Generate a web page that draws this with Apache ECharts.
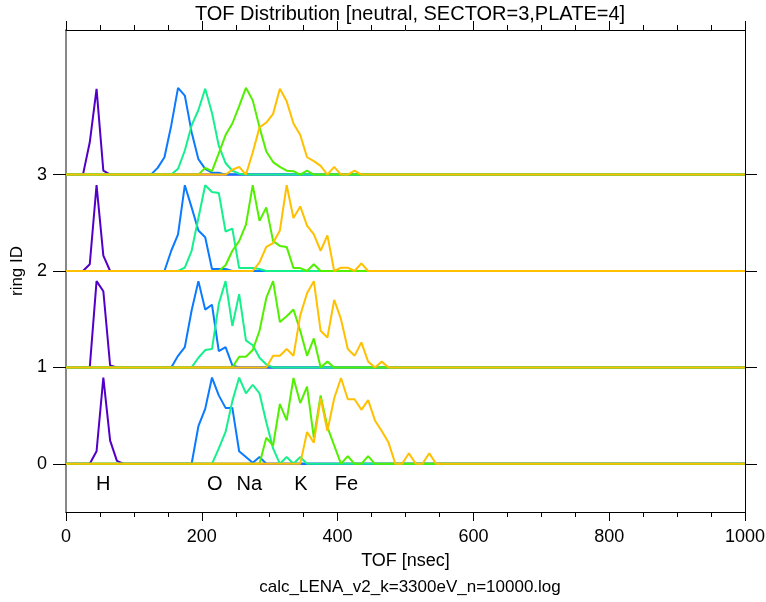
<!DOCTYPE html>
<html>
<head>
<meta charset="utf-8">
<script src="https://cdn.jsdelivr.net/npm/echarts@6/dist/echarts.min.js"></script>
<style>html,body{margin:0;padding:0;background:#fff}#c{width:766px;height:602px}</style>
</head>
<body>
<div id="c"></div>
<script>
// ---- data (TOF bins every 10 nsec, values are normalised counts, offset by ring ID) ----
const species = ['H', 'O', 'Na', 'K', 'Fe'];
const speciesColors = ['#5200c8', '#0a7aff', '#14f08c', '#52f000', '#ffc000'];
const rings = [0, 1, 2, 3];
const binWidth = 10;
const tofMin = 0, tofMax = 1000;

// first bin (nsec) of each curve, per ring, order: H, O, Na, K, Fe
const ring0Start = [35, 185, 215, 285, 345];
const ring1Start = [35, 155, 185, 245, 295];
const ring2Start = [25, 145, 165, 225, 275];
const ring3Start = [25, 125, 155, 195, 235];

const ring0H  = [0, 0.13, 0.895, 0.24, 0.03, 0];
const ring0O  = [0, 0.39, 0.57, 0.895, 0.71, 0.58, 0.58, 0.13, 0.07, 0.01, 0.07, 0];
const ring0Na = [0, 0.16, 0.33, 0.65, 0.895, 0.73, 0.82, 0.73, 0.43, 0.16, 0, 0.07, 0, 0.07, 0];
const ring0K  = [0, 0.27, 0.19, 0.62, 0.45, 0.89, 0.63, 0.80, 0.27, 0.71, 0.38, 0.19, 0, 0.08, 0, 0, 0.08, 0];
const ring0Fe = [0, 0.33, 0.22, 0.68, 0.34, 0.68, 0.89, 0.67, 0.67, 0.56, 0.66, 0.45, 0.34, 0.22, 0, 0, 0.11, 0, 0, 0.11, 0];

const ring1H  = [0, 0.895, 0.79, 0.02, 0];
const ring1O  = [0, 0.12, 0.21, 0.59, 0.895, 0.60, 0.65, 0.17, 0.21, 0.02, 0];
const ring1Na = [0, 0.10, 0.18, 0.19, 0.66, 0.895, 0.43, 0.76, 0.28, 0.23, 0.10, 0.03, 0];
const ring1K  = [0, 0.11, 0.11, 0.18, 0.38, 0.72, 0.895, 0.47, 0.53, 0.60, 0.38, 0.12, 0.30, 0, 0.06, 0];
const ring1Fe = [0, 0.12, 0.12, 0.19, 0.12, 0.54, 0.77, 0.895, 0.38, 0.31, 0.70, 0.50, 0.19, 0.12, 0.26, 0.06, 0, 0.06, 0];

const ring2H  = [0, 0.07, 0.89, 0.16, 0];
const ring2O  = [0, 0.21, 0.38, 0.89, 0.66, 0.42, 0.35, 0.02, 0.02, 0.02, 0];
const ring2Na = [0, 0.035, 0.21, 0.55, 0.89, 0.82, 0.81, 0.41, 0.44, 0.03, 0.03, 0.03, 0.02, 0];
const ring2K  = [0, 0.06, 0.21, 0.31, 0.48, 0.89, 0.52, 0.66, 0.31, 0.26, 0.25, 0.03, 0.03, 0, 0.07, 0];
const ring2Fe = [0, 0.09, 0.25, 0.29, 0.42, 0.89, 0.55, 0.67, 0.47, 0.38, 0.21, 0.37, 0, 0.035, 0.035, 0, 0.08, 0];

const ring3H  = [0, 0.335, 0.89, 0.04, 0];
const ring3O  = [0, 0.07, 0.18, 0.51, 0.90, 0.82, 0.44, 0.16, 0.06, 0.02, 0.02, 0];
const ring3Na = [0, 0.06, 0.25, 0.51, 0.67, 0.89, 0.64, 0.30, 0.12, 0.04, 0.01, 0];
const ring3K  = [0, 0.07, 0.035, 0.22, 0.41, 0.53, 0.71, 0.90, 0.77, 0.49, 0.24, 0.13, 0.08, 0.04, 0.035, 0, 0.04, 0];
const ring3Fe = [0, 0.05, 0.08, 0, 0.23, 0.49, 0.54, 0.63, 0.89, 0.76, 0.53, 0.41, 0.18, 0.14, 0.09, 0, 0.08, 0, 0, 0.04, 0];

const yTicks = [0, 1, 2, 3];
const xTickInterval = 200;

// species labels under ring 0
const labelNames = ['H', 'O', 'Na', 'K', 'Fe'];
const labelTOF = [55, 219, 270, 346, 413];
const labelLevel = -0.215;

const titleText = 'TOF Distribution [neutral, SECTOR=3,PLATE=4]';
const xName = 'TOF [nsec]';
const yName = 'ring ID';
const fileText = 'calc_LENA_v2_k=3300eV_n=10000.log';

// ---- build ----
const starts = [ring0Start, ring1Start, ring2Start, ring3Start];
const values = [
  [ring0H, ring0O, ring0Na, ring0K, ring0Fe],
  [ring1H, ring1O, ring1Na, ring1K, ring1Fe],
  [ring2H, ring2O, ring2Na, ring2K, ring2Fe],
  [ring3H, ring3O, ring3Na, ring3K, ring3Fe]
];

const series = [];
species.forEach((sp, s) => {
  rings.forEach(r => {
    const st = starts[r][s];
    const vals = values[r][s];
    const data = [[tofMin, r]];
    vals.forEach((v, i) => data.push([st + i * binWidth, r + v]));
    data.push([tofMax, r]);
    series.push({
      type: 'line', name: sp + r, data: data,
      xAxisIndex: 0, yAxisIndex: 0,
      showSymbol: false, symbol: 'none', smooth: false, animation: false,
      lineStyle: { color: speciesColors[s], width: 2 },
      itemStyle: { color: speciesColors[s] }
    });
  });
});

series.push({
  type: 'scatter', xAxisIndex: 0, yAxisIndex: 0, symbol: 'circle', symbolSize: 1, animation: false, silent: true,
  itemStyle: { color: 'rgba(0,0,0,0)', opacity: 1 },
  data: labelNames.map((n, i) => ({ name: n, value: [labelTOF[i], labelLevel] })),
  label: { show: true, position: 'inside', formatter: p => p.name, opacity: 1,
           textBorderWidth: 0, textShadowBlur: 0,
           fontFamily: 'Liberation Sans, Arial, sans-serif', fontSize: 20, color: '#000000' }
});

const axisFont = 'Liberation Sans, Arial, sans-serif';
const chart = echarts.init(document.getElementById('c'), null, { renderer: 'canvas' });
chart.setOption({
  backgroundColor: '#fff',
  animation: false,
  title: [
    { text: titleText, left: 405, top: -1, textAlign: 'center',
      textStyle: { fontFamily: axisFont, fontWeight: 'normal', fontSize: 20, color: '#000' } },
    { text: fileText, left: 405, top: 574, textAlign: 'center',
      textStyle: { fontFamily: axisFont, fontWeight: 'normal', fontSize: 17, color: '#000' } }
  ],
  grid: { left: 66, right: 21, top: 30, bottom: 90, containLabel: false, outerBoundsMode: 'none' },
  xAxis: [
    { type: 'value', position: 'bottom', min: tofMin, max: tofMax, interval: xTickInterval,
      name: xName, nameLocation: 'middle', nameGap: 40,
      nameTextStyle: { fontFamily: axisFont, fontSize: 18, color: '#000' },
      axisLine: { show: true, onZero: false, lineStyle: { color: '#000', width: 1 } },
      axisTick: { show: true, inside: false, length: 9, lineStyle: { color: '#000' } },
      minorTick: { show: true, splitNumber: 4, length: 5, lineStyle: { color: '#000' } },
      axisLabel: { fontFamily: axisFont, fontSize: 18, color: '#000', margin: 16,
                   formatter: v => String(v), hideOverlap: false },
      splitLine: { show: false } },
    { type: 'value', position: 'top', min: tofMin, max: tofMax, interval: xTickInterval,
      axisLine: { show: true, onZero: false, lineStyle: { color: '#000', width: 1 } },
      axisTick: { show: true, inside: false, length: 9, lineStyle: { color: '#000' } },
      minorTick: { show: true, splitNumber: 4, length: 5, lineStyle: { color: '#000' } },
      axisLabel: { show: false }, splitLine: { show: false } }
  ],
  yAxis: [
    { type: 'value', position: 'left', min: -0.5, max: 4.5,
      name: yName, nameLocation: 'middle', nameGap: 40, nameRotate: 90,
      nameTextStyle: { fontFamily: axisFont, fontSize: 17, color: '#000' },
      axisLine: { show: true, onZero: false, lineStyle: { color: '#888', width: 2 } },
      axisTick: { show: true, inside: false, length: 13, customValues: yTicks, lineStyle: { color: '#000' } },
      axisLabel: { fontFamily: axisFont, fontSize: 18, color: '#000', margin: 19, customValues: yTicks },
      splitLine: { show: false } },
    { type: 'value', position: 'right', min: -0.5, max: 4.5,
      axisLine: { show: true, onZero: false, lineStyle: { color: '#000', width: 1 } },
      axisTick: { show: true, inside: false, length: 12, customValues: yTicks, lineStyle: { color: '#000' } },
      axisLabel: { show: false }, splitLine: { show: false } }
  ],
  series: series
});
</script>
</body>
</html>
